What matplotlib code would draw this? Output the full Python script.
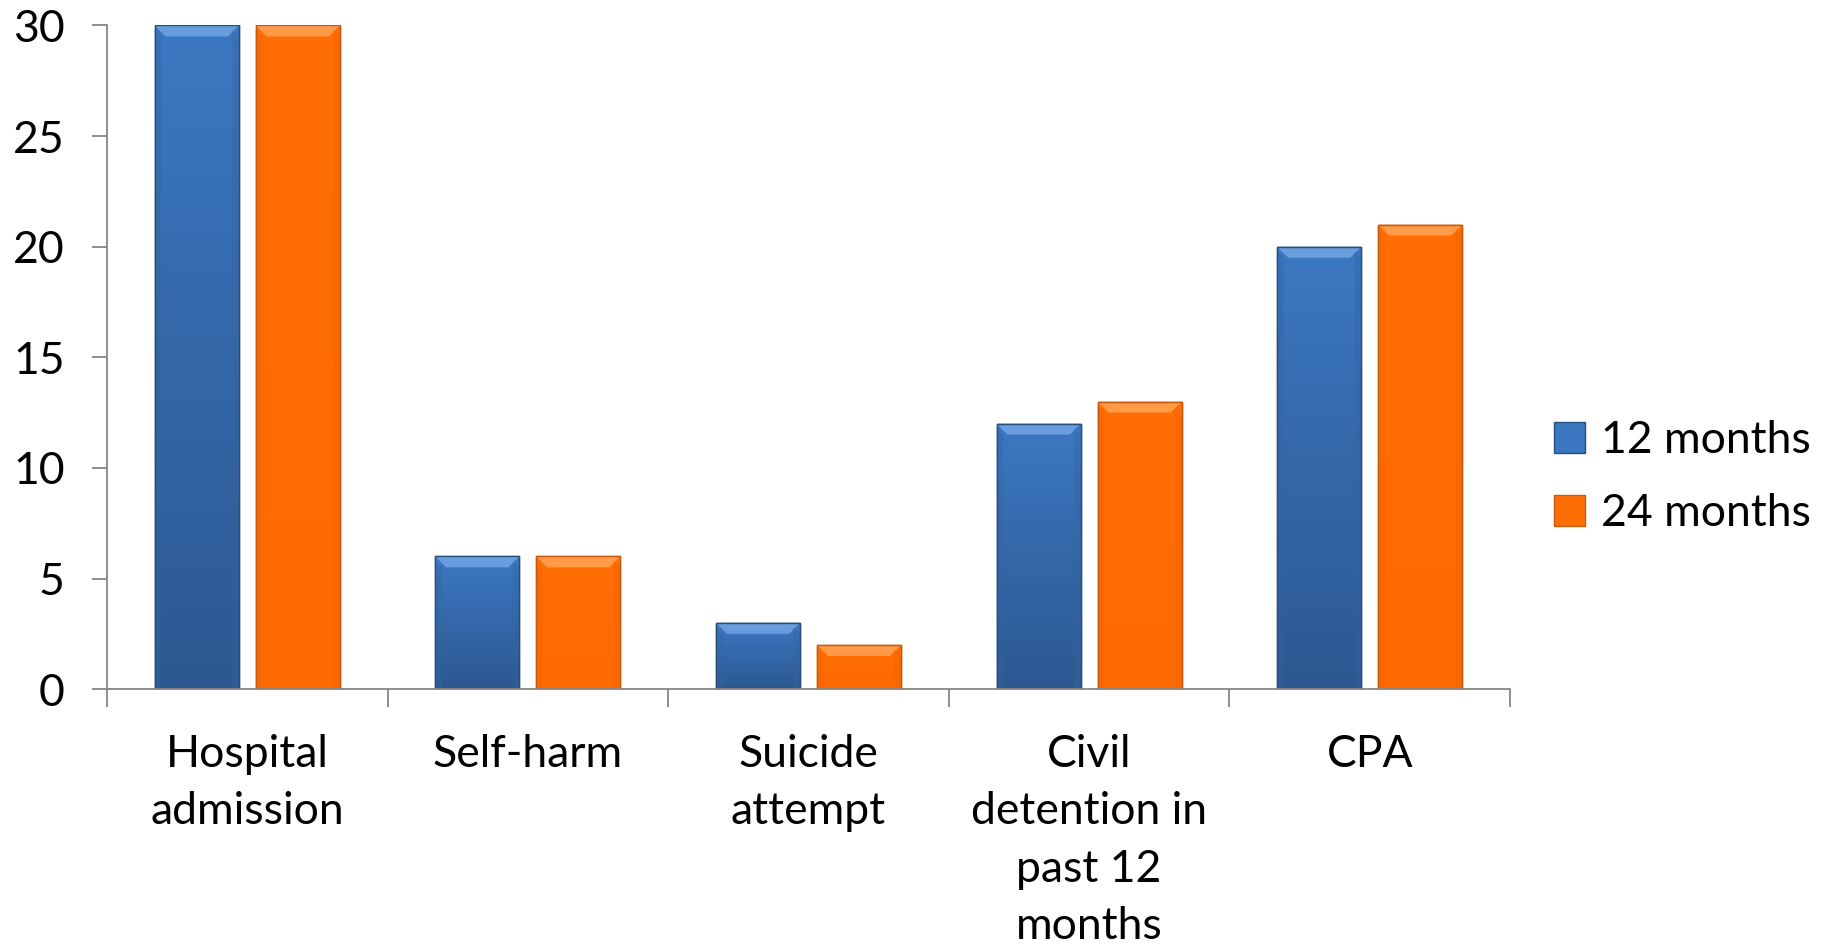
import numpy as np
import matplotlib
matplotlib.use("Agg")
import matplotlib.pyplot as plt
from matplotlib.patches import Polygon
from matplotlib.colors import LinearSegmentedColormap

categories = ["Hospital\nadmission", "Self-harm", "Suicide\nattempt",
              "Civil\ndetention in\npast 12\nmonths", "CPA"]
series_names = ["12 months", "24 months"]
values_12 = [30, 6, 3, 12, 20]
values_24 = [30, 6, 2, 13, 21]

plt.rcParams['font.family'] = ['Lato', 'DejaVu Sans']

fig = plt.figure(figsize=(18.22, 9.44), dpi=100)
ax = fig.add_axes([0.0587, 0.270, 0.7701, 0.703])

x = np.arange(len(categories))
w = 0.30
off = 0.18
styles = [
    dict(top="#3C78C2", bottom="#2C5890", edge="#2A4E7C", bevel="#6EA2E2", side="#33649F"),
    dict(top="#FF6E04", bottom="#FF6A00", edge="#C65A10", bevel="#FFA050", side="#F06400"),
]

ax.set_xlim(-0.5, len(categories) - 0.5)
ax.set_ylim(0, 30)

bars = []
for i, (vals, st) in enumerate(zip([values_12, values_24], styles)):
    b = ax.bar(x + (-off if i == 0 else off), vals, width=w, color=st["top"],
               edgecolor=st["edge"], linewidth=1.0, label=series_names[i], zorder=2)
    bars.append(b)

fig.canvas.draw()
p0 = ax.transData.transform((0, 0))
p1 = ax.transData.transform((1, 1))
px_x = p1[0] - p0[0]
px_y = p1[1] - p0[1]
bev = 11.0
bx = bev / px_x
by = bev / px_y

for b, st in zip(bars, styles):
    cmap = LinearSegmentedColormap.from_list("g", [st["bottom"], st["top"]])
    for p in b.patches:
        x0, y0 = p.get_x(), p.get_y()
        ww, hh = p.get_width(), p.get_height()
        grad = np.linspace(0, 1, 256).reshape(-1, 1)
        im = ax.imshow(grad, cmap=cmap, aspect="auto", origin="lower",
                       extent=(x0, x0 + ww, y0, y0 + hh), zorder=2.1)
        im.set_clip_path(p)
        top = Polygon([(x0, y0 + hh), (x0 + ww, y0 + hh), (x0 + ww - bx, y0 + hh - by),
                       (x0 + bx, y0 + hh - by)], closed=True, facecolor=st["bevel"],
                      edgecolor="none", zorder=2.2, alpha=0.9)
        ax.add_patch(top)
        for sx in (x0, x0 + ww - bx * 0.6):
            side = Polygon([(sx, y0), (sx + bx * 0.6, y0), (sx + bx * 0.6, y0 + hh - by),
                            (sx, y0 + hh - by * 0.4)], closed=True,
                           facecolor=st["side"], edgecolor="none", alpha=0.35, zorder=2.2)
            ax.add_patch(side)
        ax.add_patch(plt.Rectangle((x0, y0), ww, hh, fill=False, edgecolor=st["edge"],
                                   linewidth=1.0, zorder=2.3))

ax.set_xlim(-0.5, len(categories) - 0.5)
ax.set_ylim(0, 30)

for s in ["top", "right"]:
    ax.spines[s].set_visible(False)
for s in ["left", "bottom"]:
    ax.spines[s].set_color("#868686")
    ax.spines[s].set_linewidth(1.3)

ax.set_yticks([0, 5, 10, 15, 20, 25, 30])
ax.tick_params(axis="y", direction="out", length=10.5, width=1.3, color="#868686",
               labelsize=32, pad=20)
ax.set_xticks(np.arange(len(categories) + 1) - 0.5)
ax.set_xticklabels([])
ax.tick_params(axis="x", which="major", direction="out", length=13, width=1.3, color="#868686")
ax.set_xticks(x, minor=True)
ax.set_xticklabels(categories, minor=True, fontsize=32, linespacing=1.5)
ax.tick_params(axis="x", which="minor", length=0, pad=32)

leg = fig.legend(handles=[bars[0], bars[1]], labels=series_names,
                 loc="center left", bbox_to_anchor=(0.853, 0.495), frameon=False,
                 fontsize=32, handlelength=0.7, handleheight=0.7, handletextpad=0.35,
                 labelspacing=0.72, borderpad=0, borderaxespad=0)

fig.savefig("out.png", dpi=100, facecolor="white")
